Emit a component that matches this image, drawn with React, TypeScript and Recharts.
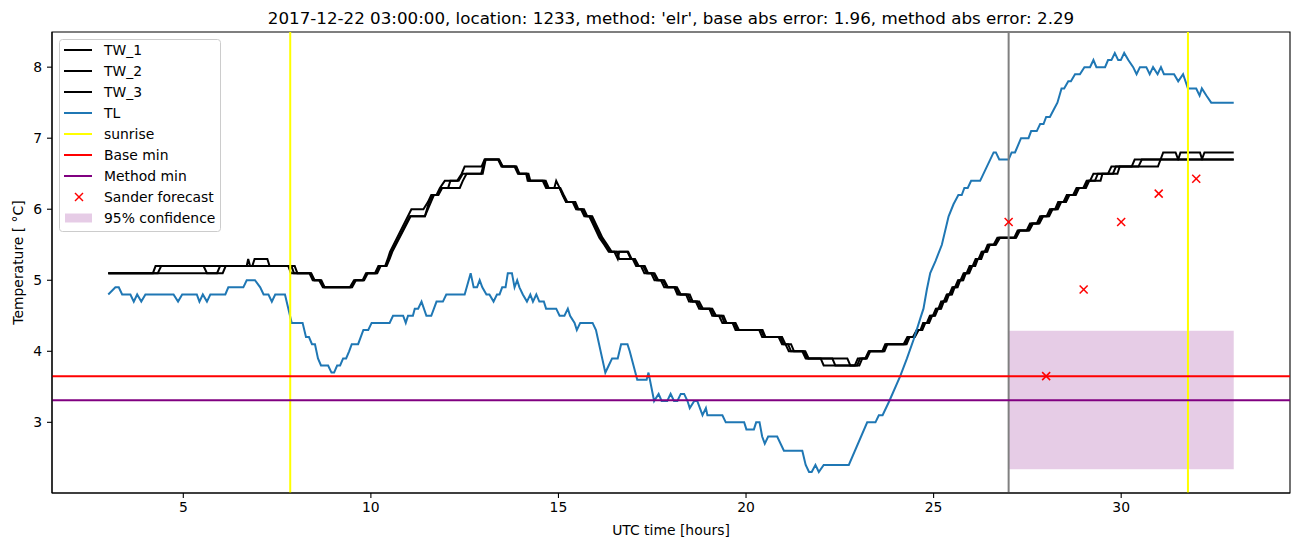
import { ComposedChart, Line, Scatter, XAxis, YAxis, ReferenceLine, ReferenceArea, Label } from "recharts";

// [hour, °C] vertices
const tw1: [number, number][] = [
  [3.0, 5.1], [4.19, 5.1], [4.26, 5.2], [6.69, 5.2], [6.73, 5.3], [6.78, 5.2], [7.8, 5.2], [7.87, 5.1], [8.36, 5.1], [8.45, 5.0],
  [8.62, 5.0], [8.72, 4.9], [9.44, 4.9], [9.55, 5.0], [9.78, 5.0], [9.87, 5.1], [10.11, 5.1], [10.2, 5.2], [10.38, 5.2], [10.45, 5.3],
  [10.51, 5.4], [11.08, 6.0], [11.4, 6.0], [11.52, 6.1], [11.61, 6.2], [11.75, 6.2], [11.84, 6.3], [11.97, 6.4], [12.3, 6.4], [12.42, 6.5],
  [12.5, 6.6], [12.95, 6.6], [13.03, 6.7], [13.39, 6.7], [13.48, 6.6], [13.83, 6.6], [13.92, 6.5], [14.14, 6.5], [14.18, 6.4], [14.58, 6.4],
  [14.67, 6.3], [14.89, 6.3], [14.94, 6.4], [15.03, 6.3], [15.11, 6.2], [15.2, 6.1], [15.38, 6.1], [15.47, 6.0], [15.6, 6.0], [15.69, 5.9],
  [15.82, 5.9], [15.91, 5.8], [16.0, 5.7], [16.09, 5.6], [16.22, 5.5], [16.34, 5.4], [16.84, 5.4], [16.93, 5.3], [16.98, 5.3], [17.07, 5.2],
  [17.2, 5.2], [17.29, 5.1], [17.47, 5.1], [17.56, 5.0], [17.73, 5.0], [17.82, 4.9], [18.09, 4.9], [18.17, 4.8], [18.4, 4.8], [18.48, 4.7],
  [18.66, 4.7], [18.75, 4.6], [19.02, 4.6], [19.1, 4.5], [19.28, 4.5], [19.37, 4.4], [19.64, 4.4], [19.72, 4.3], [20.35, 4.3], [20.43, 4.2],
  [20.87, 4.2], [20.96, 4.1], [21.05, 4.1], [21.14, 4.0], [21.5, 4.0], [21.59, 3.9], [21.99, 3.9], [22.07, 3.8], [22.9, 3.8], [22.98, 3.9],
  [23.18, 3.9], [23.27, 4.0], [23.63, 4.0], [23.71, 4.1], [24.2, 4.1], [24.3, 4.2], [24.45, 4.2], [24.55, 4.3], [24.65, 4.3], [24.72, 4.4],
  [24.82, 4.4], [24.9, 4.5], [24.98, 4.5], [25.06, 4.6], [25.13, 4.6], [25.2, 4.7], [25.27, 4.7], [25.35, 4.8], [25.42, 4.8], [25.5, 4.9],
  [25.57, 4.9], [25.65, 5.0], [25.72, 5.0], [25.8, 5.1], [25.88, 5.1], [25.96, 5.2], [26.04, 5.2], [26.12, 5.3], [26.2, 5.3], [26.28, 5.4],
  [26.36, 5.4], [26.44, 5.5], [26.6, 5.5], [26.7, 5.6], [27.15, 5.6], [27.24, 5.7], [27.48, 5.7], [27.57, 5.8], [27.75, 5.8], [27.84, 5.9],
  [28.01, 5.9], [28.1, 6.0], [28.24, 6.0], [28.32, 6.1], [28.46, 6.1], [28.55, 6.2], [28.72, 6.2], [28.81, 6.3], [28.99, 6.3], [29.08, 6.4],
  [29.17, 6.4], [29.26, 6.5], [29.65, 6.5], [29.74, 6.6], [30.28, 6.6], [30.36, 6.7], [31.05, 6.7], [31.12, 6.8], [31.45, 6.8], [31.52, 6.7],
  [33.0, 6.7],
];

const tw2: [number, number][] = [
  [3.0, 5.1], [4.32, 5.1], [4.41, 5.2], [5.54, 5.2], [5.63, 5.1], [5.9, 5.1], [5.98, 5.2], [6.84, 5.2], [6.9, 5.3], [7.24, 5.3],
  [7.3, 5.2], [7.88, 5.2], [7.95, 5.1], [8.39, 5.1], [8.48, 5.0], [8.65, 5.0], [8.75, 4.9], [9.47, 4.9], [9.58, 5.0], [9.8, 5.0],
  [9.9, 5.1], [10.14, 5.1], [10.23, 5.2], [10.4, 5.2], [10.48, 5.3], [10.55, 5.4], [11.04, 5.9], [11.44, 5.9], [11.55, 6.1], [11.65, 6.2],
  [11.78, 6.2], [11.88, 6.3], [12.37, 6.3], [12.45, 6.4], [12.55, 6.5], [12.94, 6.5], [13.04, 6.7], [13.41, 6.7], [13.5, 6.6], [13.86, 6.6],
  [13.95, 6.5], [14.16, 6.5], [14.21, 6.4], [14.62, 6.4], [14.7, 6.3], [15.03, 6.3], [15.12, 6.2], [15.22, 6.1], [15.42, 6.1], [15.5, 6.0],
  [15.64, 6.0], [15.73, 5.9], [15.86, 5.9], [15.95, 5.8], [16.04, 5.7], [16.13, 5.6], [16.26, 5.5], [16.38, 5.4], [16.49, 5.4], [16.58, 5.3],
  [16.62, 5.4], [16.86, 5.4], [16.95, 5.3], [17.02, 5.3], [17.12, 5.2], [17.26, 5.2], [17.35, 5.1], [17.52, 5.1], [17.62, 5.0], [17.78, 5.0],
  [17.88, 4.9], [18.12, 4.9], [18.22, 4.8], [18.45, 4.8], [18.53, 4.7], [18.7, 4.7], [18.8, 4.6], [19.06, 4.6], [19.15, 4.5], [19.35, 4.5],
  [19.43, 4.4], [19.68, 4.4], [19.77, 4.3], [20.4, 4.3], [20.48, 4.2], [20.92, 4.2], [21.0, 4.1], [21.12, 4.1], [21.2, 4.0], [21.54, 4.0],
  [21.63, 3.9], [22.3, 3.9], [22.38, 3.8], [22.96, 3.8], [23.04, 3.9], [23.2, 3.9], [23.29, 4.0], [23.66, 4.0], [23.74, 4.1], [24.24, 4.1],
  [24.32, 4.2], [24.48, 4.2], [24.58, 4.3], [24.68, 4.3], [24.76, 4.4], [24.86, 4.4], [24.93, 4.5], [25.01, 4.5], [25.09, 4.6], [25.17, 4.6],
  [25.24, 4.7], [25.31, 4.7], [25.38, 4.8], [25.46, 4.8], [25.53, 4.9], [25.61, 4.9], [25.68, 5.0], [25.76, 5.0], [25.83, 5.1], [25.92, 5.1],
  [26.0, 5.2], [26.08, 5.2], [26.15, 5.3], [26.24, 5.3], [26.31, 5.4], [26.4, 5.4], [26.47, 5.5], [26.64, 5.5], [26.74, 5.6], [27.18, 5.6],
  [27.27, 5.7], [27.52, 5.7], [27.61, 5.8], [27.79, 5.8], [27.88, 5.9], [28.05, 5.9], [28.14, 6.0], [28.28, 6.0], [28.36, 6.1], [28.5, 6.1],
  [28.59, 6.2], [28.76, 6.2], [28.85, 6.3], [29.03, 6.3], [29.12, 6.4], [29.3, 6.4], [29.38, 6.5], [29.78, 6.5], [29.86, 6.6], [30.46, 6.6],
  [30.55, 6.7], [31.52, 6.7], [31.58, 6.8], [32.1, 6.8], [32.16, 6.7], [33.0, 6.7],
];

const tw3: [number, number][] = [
  [3.0, 5.1], [6.05, 5.1], [6.13, 5.2], [7.97, 5.2], [8.04, 5.1], [8.41, 5.1], [8.5, 5.0], [8.68, 5.0], [8.77, 4.9], [9.5, 4.9],
  [9.6, 5.0], [9.82, 5.0], [9.92, 5.1], [10.17, 5.1], [10.26, 5.2], [10.42, 5.2], [10.5, 5.3], [10.57, 5.4], [11.06, 5.9], [11.44, 5.9],
  [11.52, 6.0], [11.6, 6.1], [11.68, 6.2], [11.8, 6.2], [11.9, 6.3], [12.06, 6.3], [12.12, 6.4], [12.34, 6.4], [12.45, 6.5], [12.98, 6.5],
  [13.06, 6.7], [13.42, 6.7], [13.52, 6.6], [13.88, 6.6], [13.96, 6.5], [14.2, 6.5], [14.25, 6.4], [14.66, 6.4], [14.74, 6.3], [15.05, 6.3],
  [15.14, 6.2], [15.24, 6.1], [15.45, 6.1], [15.53, 6.0], [15.68, 6.0], [15.77, 5.9], [15.9, 5.9], [15.99, 5.8], [16.08, 5.7], [16.17, 5.6],
  [16.3, 5.5], [16.42, 5.4], [16.55, 5.4], [16.62, 5.3], [17.04, 5.3], [17.14, 5.2], [17.3, 5.2], [17.39, 5.1], [17.56, 5.1], [17.66, 5.0],
  [17.82, 5.0], [17.92, 4.9], [18.16, 4.9], [18.26, 4.8], [18.5, 4.8], [18.58, 4.7], [18.75, 4.7], [18.85, 4.6], [19.1, 4.6], [19.2, 4.5],
  [19.4, 4.5], [19.48, 4.4], [19.72, 4.4], [19.81, 4.3], [20.44, 4.3], [20.52, 4.2], [20.96, 4.2], [21.05, 4.1], [21.2, 4.1], [21.28, 4.0],
  [21.58, 4.0], [21.67, 3.9], [22.7, 3.9], [22.78, 3.8], [23.02, 3.8], [23.1, 3.9], [23.22, 3.9], [23.31, 4.0], [23.69, 4.0], [23.77, 4.1],
  [24.28, 4.1], [24.36, 4.2], [24.5, 4.2], [24.6, 4.3], [24.7, 4.3], [24.78, 4.4], [24.88, 4.4], [24.96, 4.5], [25.04, 4.5], [25.12, 4.6],
  [25.2, 4.6], [25.27, 4.7], [25.34, 4.7], [25.41, 4.8], [25.49, 4.8], [25.56, 4.9], [25.64, 4.9], [25.71, 5.0], [25.79, 5.0], [25.86, 5.1],
  [25.95, 5.1], [26.03, 5.2], [26.11, 5.2], [26.18, 5.3], [26.27, 5.3], [26.34, 5.4], [26.43, 5.4], [26.5, 5.5], [26.66, 5.5], [26.77, 5.6],
  [27.2, 5.6], [27.3, 5.7], [27.55, 5.7], [27.65, 5.8], [27.82, 5.8], [27.92, 5.9], [28.08, 5.9], [28.17, 6.0], [28.31, 6.0], [28.4, 6.1],
  [28.53, 6.1], [28.62, 6.2], [28.79, 6.2], [28.88, 6.3], [29.06, 6.3], [29.15, 6.4], [29.45, 6.4], [29.5, 6.5], [29.9, 6.5], [29.96, 6.6],
  [30.98, 6.6], [31.05, 6.7], [32.15, 6.7], [32.22, 6.8], [33.0, 6.8],
];

const tl: [number, number][] = [
  [3.0, 4.8], [3.19, 4.9], [3.28, 4.9], [3.37, 4.8], [3.59, 4.8], [3.68, 4.7], [3.77, 4.8], [3.88, 4.7], [3.99, 4.8], [4.74, 4.8],
  [4.86, 4.7], [4.97, 4.8], [5.36, 4.8], [5.43, 4.7], [5.52, 4.8], [5.63, 4.7], [5.72, 4.8], [6.12, 4.8], [6.2, 4.9], [6.6, 4.9],
  [6.69, 5.0], [6.91, 5.0], [7.05, 4.9], [7.14, 4.8], [7.27, 4.8], [7.36, 4.7], [7.45, 4.8], [7.71, 4.8], [7.89, 4.4], [8.18, 4.4],
  [8.27, 4.2], [8.35, 4.2], [8.43, 4.1], [8.51, 4.1], [8.59, 3.9], [8.67, 3.8], [8.86, 3.8], [8.95, 3.7], [9.02, 3.7], [9.1, 3.8],
  [9.18, 3.8], [9.26, 3.9], [9.34, 3.9], [9.42, 4.0], [9.49, 4.1], [9.66, 4.1], [9.8, 4.3], [9.93, 4.3], [10.02, 4.4], [10.5, 4.4],
  [10.59, 4.5], [10.86, 4.5], [10.93, 4.4], [10.99, 4.5], [11.12, 4.5], [11.17, 4.6], [11.26, 4.6], [11.35, 4.7], [11.48, 4.5], [11.61, 4.5],
  [11.75, 4.7], [11.92, 4.7], [12.01, 4.8], [12.5, 4.8], [12.66, 5.1], [12.74, 4.9], [12.83, 4.9], [12.9, 5.0], [12.97, 4.9], [13.08, 4.8],
  [13.16, 4.8], [13.27, 4.7], [13.36, 4.8], [13.43, 4.8], [13.5, 4.9], [13.59, 4.9], [13.65, 5.1], [13.76, 5.1], [13.83, 4.9], [13.9, 5.0],
  [13.96, 4.9], [14.05, 4.8], [14.16, 4.7], [14.25, 4.8], [14.32, 4.7], [14.41, 4.8], [14.49, 4.7], [14.61, 4.7], [14.67, 4.6], [14.94, 4.6],
  [15.03, 4.5], [15.16, 4.5], [15.25, 4.6], [15.31, 4.5], [15.43, 4.4], [15.49, 4.3], [15.58, 4.4], [15.91, 4.4], [16.0, 4.3], [16.25, 3.7],
  [16.34, 3.8], [16.43, 3.9], [16.58, 3.9], [16.67, 4.1], [16.84, 4.1], [16.9, 4.0], [17.05, 3.7], [17.1, 3.6], [17.35, 3.6], [17.4, 3.7],
  [17.55, 3.3], [17.67, 3.4], [17.75, 3.3], [17.9, 3.3], [17.99, 3.4], [18.08, 3.3], [18.17, 3.3], [18.26, 3.4], [18.35, 3.4], [18.44, 3.3],
  [18.5, 3.2], [18.62, 3.3], [18.7, 3.3], [18.84, 3.1], [18.93, 3.2], [18.97, 3.1], [19.37, 3.1], [19.46, 3.0], [19.95, 3.0], [20.01, 2.9],
  [20.21, 2.9], [20.27, 3.0], [20.36, 3.0], [20.43, 2.8], [20.5, 2.7], [20.59, 2.8], [20.83, 2.8], [21.01, 2.6], [21.5, 2.6], [21.59, 2.4],
  [21.68, 2.3], [21.75, 2.3], [21.85, 2.4], [21.94, 2.3], [22.07, 2.4], [22.74, 2.4], [23.23, 3.0], [23.45, 3.0], [23.54, 3.1], [23.64, 3.1],
  [23.82, 3.3], [24.11, 3.65], [24.29, 3.9], [24.47, 4.17], [24.65, 4.47], [24.73, 4.6], [24.82, 4.87], [24.91, 5.1], [25.05, 5.27], [25.22, 5.5],
  [25.4, 5.9], [25.53, 6.07], [25.66, 6.2], [25.75, 6.2], [25.82, 6.3], [25.91, 6.3], [26.0, 6.4], [26.24, 6.4], [26.6, 6.8], [26.66, 6.8],
  [26.75, 6.7], [27.0, 6.7], [27.08, 6.8], [27.17, 6.8], [27.25, 6.9], [27.33, 7.0], [27.53, 7.0], [27.6, 7.1], [27.75, 7.1], [27.84, 7.2],
  [27.93, 7.2], [28.0, 7.3], [28.1, 7.3], [28.2, 7.4], [28.3, 7.5], [28.41, 7.7], [28.48, 7.7], [28.59, 7.8], [28.66, 7.8], [28.77, 7.9],
  [28.9, 7.9], [29.02, 8.0], [29.17, 8.0], [29.26, 8.1], [29.34, 8.0], [29.57, 8.0], [29.65, 8.1], [29.74, 8.1], [29.83, 8.2], [29.92, 8.1],
  [29.99, 8.1], [30.08, 8.2], [30.19, 8.1], [30.32, 8.0], [30.41, 7.9], [30.5, 8.0], [30.67, 8.0], [30.76, 7.9], [30.85, 8.0], [30.97, 7.9],
  [31.06, 8.0], [31.14, 7.9], [31.41, 7.9], [31.52, 7.8], [31.65, 7.9], [31.78, 7.7], [32.0, 7.7], [32.09, 7.6], [32.15, 7.7], [32.27, 7.6],
  [32.4, 7.5], [33.0, 7.5],
];

const sanderHours = [27, 28, 29, 30, 31, 32];
const sanderValues = [5.82, 3.65, 4.87, 5.82, 6.22, 6.43];
const sunriseHours = [7.85, 31.78];
const forecastHour = 27;
const baseMin = 3.65;
const methodMin = 3.31;
const confHours = [27, 33];
const confBounds = [2.34, 4.29];
const xDomain = [1.5, 34.5];
const yDomain = [2.005, 8.495];
const xTicks = [5, 10, 15, 20, 25, 30];
const yTicks = [3, 4, 5, 6, 7, 8];
const legendLabels = ["TW_1", "TW_2", "TW_3", "TL", "sunrise", "Base min", "Method min", "Sander forecast", "95% confidence"];

const FONT = "DejaVu Sans, sans-serif";
const BLUE = "#1f77b4";

const rows = (pts: [number, number][]) => pts.map(([h, v]) => ({ h, v }));
const sander = sanderHours.map((h, i) => ({ h, v: sanderValues[i] }));

const XMark = (props: any) => {
  const { cx, cy } = props;
  if (cx == null || cy == null) return null;
  return (
    <g>
      <line x1={cx - 4} y1={cy - 4} x2={cx + 4} y2={cy + 4} stroke="#ff0000" strokeWidth={1.5} />
      <line x1={cx - 4} y1={cy + 4} x2={cx + 4} y2={cy - 4} stroke="#ff0000" strokeWidth={1.5} />
    </g>
  );
};

const LegendBox = () => {
  const handle = (i: number) => {
    const y = 11 + i * 21;
    if (i < 3) return <line x1={5} x2={33} y1={y} y2={y} stroke="#000" strokeWidth={2} />;
    if (i === 3) return <line x1={5} x2={33} y1={y} y2={y} stroke={BLUE} strokeWidth={2} />;
    if (i === 4) return <line x1={5} x2={33} y1={y} y2={y} stroke="#ffff00" strokeWidth={2} />;
    if (i === 5) return <line x1={5} x2={33} y1={y} y2={y} stroke="#ff0000" strokeWidth={2} />;
    if (i === 6) return <line x1={5} x2={33} y1={y} y2={y} stroke="#800080" strokeWidth={2} />;
    if (i === 7) return <XMark cx={20} cy={y} />;
    return <rect x={6} y={y - 4.5} width={27} height={9} fill="#800080" fillOpacity={0.2} />;
  };
  return (
    <svg width={163} height={194} style={{ position: "absolute", left: 59, top: 39 }}>
      <rect x={0.5} y={0.5} width={161} height={192} rx={3} fill="#fff" fillOpacity={0.8} stroke="#cccccc" />
      {legendLabels.map((label, i) => (
        <g key={label}>
          {handle(i)}
          <text x={45} y={11 + i * 21} dominantBaseline="central" fontSize={13.9} fontFamily={FONT} fill="#000">
            {label}
          </text>
        </g>
      ))}
    </svg>
  );
};

export default function App() {
  const tick = { fill: "#000", fontSize: 13.9, fontFamily: FONT };
  return (
    <div style={{ position: "absolute", left: 0, top: 0, width: 1302, height: 547, background: "#fff", fontFamily: FONT }}>
      <div
        style={{
          position: "absolute", left: 52, top: 8, width: 1238, height: 20, lineHeight: "20px",
          textAlign: "center", fontSize: 16.7, color: "#000",
        }}
      >
        2017-12-22 03:00:00, location: 1233, method: 'elr', base abs error: 1.96, method abs error: 2.29
      </div>
      <ComposedChart width={1302} height={547} margin={{ top: 32, right: 12, bottom: 0, left: 0 }}>
        <XAxis
          dataKey="h" type="number" domain={xDomain} ticks={xTicks} allowDataOverflow
          height={54} tickSize={5} tickMargin={4} tick={tick}
          axisLine={{ stroke: "#000", strokeWidth: 1.1 }} tickLine={{ stroke: "#000", strokeWidth: 1.1 }}
        >
          <Label value="UTC time [hours]" position="insideBottom" offset={12} style={{ fontSize: 13.9, fontFamily: FONT, fill: "#000" }} />
        </XAxis>
        <YAxis
          type="number" domain={yDomain} ticks={yTicks} allowDataOverflow
          width={52} tickSize={5} tickMargin={5} tick={tick}
          axisLine={{ stroke: "#000", strokeWidth: 1.1 }} tickLine={{ stroke: "#000", strokeWidth: 1.1 }}
        >
          <Label value="Temperature [ °C]" angle={-90} position="insideLeft" offset={18}
            style={{ textAnchor: "middle", fontSize: 13.9, fontFamily: FONT, fill: "#000" }} />
        </YAxis>
        <ReferenceArea x1={confHours[0]} x2={confHours[1]} y1={confBounds[0]} y2={confBounds[1]}
          fill="#800080" fillOpacity={0.2} stroke="none" />
        <Line data={rows(tw1)} dataKey="v" type="linear" stroke="#000" strokeWidth={2} dot={false} isAnimationActive={false} />
        <Line data={rows(tw2)} dataKey="v" type="linear" stroke="#000" strokeWidth={2} dot={false} isAnimationActive={false} />
        <Line data={rows(tw3)} dataKey="v" type="linear" stroke="#000" strokeWidth={2} dot={false} isAnimationActive={false} />
        <Line data={rows(tl)} dataKey="v" type="linear" stroke={BLUE} strokeWidth={2} dot={false} isAnimationActive={false} />
        <ReferenceLine x={forecastHour} stroke="#808080" strokeWidth={2} />
        {sunriseHours.map((h) => (
          <ReferenceLine key={h} x={h} stroke="#ffff00" strokeWidth={2} />
        ))}
        <ReferenceLine y={baseMin} stroke="#ff0000" strokeWidth={2} />
        <ReferenceLine y={methodMin} stroke="#800080" strokeWidth={2} />
        <Scatter data={sander} dataKey="v" shape={<XMark />} isAnimationActive={false} />
        <ReferenceArea x1={xDomain[0]} x2={xDomain[1]} y1={yDomain[0]} y2={yDomain[1]}
          fill="none" stroke="#000" strokeWidth={1.1} />
      </ComposedChart>
      <LegendBox />
    </div>
  );
}
